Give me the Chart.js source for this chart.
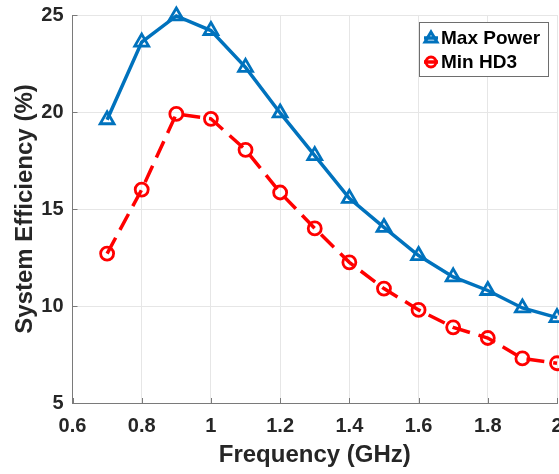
<!DOCTYPE html>
<html>
<head>
<meta charset="utf-8">
<script src="https://cdn.jsdelivr.net/npm/chart.js@4"></script>
<style>
  html, body { margin: 0; padding: 0; background: #fff; }
  #wrap { width: 559px; height: 474px; }
</style>
</head>
<body>
<div id="wrap"><canvas id="myChart" width="559" height="474"></canvas></div>
<script>
// Datos
var freq = [0.7, 0.8, 0.9, 1.0, 1.1, 1.2, 1.3, 1.4, 1.5, 1.6, 1.7, 1.8, 1.9, 2.0];
var maxPower = [19.6, 23.6, 24.95, 24.2, 22.3, 19.95, 17.75, 15.55, 14.05, 12.6, 11.5, 10.8, 9.9, 9.4];
var minHD3 = [12.7, 16.0, 19.9, 19.65, 18.05, 15.85, 14.0, 12.25, 10.9, 9.8, 8.9, 8.35, 7.3, 7.05];
var seriesNames = ['Max Power', 'Min HD3'];

var blue = '#0072BD';
var red = '#FF0000';
var fontFam = '"Liberation Sans", Arial, sans-serif';

function toPoints(xs, ys) {
  return xs.map(function(x, i) { return { x: x, y: ys[i] }; });
}

// Leyenda dibujada dentro del área del gráfico (como en MATLAB)
var legendBox = {
  id: 'legendBox',
  afterDraw: function(chart) {
    var c = chart.ctx;
    var x0 = 419.5, y0 = 22.5, w = 129, h = 54;
    c.save();
    c.fillStyle = '#fff';
    c.fillRect(x0, y0, w, h);
    c.strokeStyle = '#6e6e6e';
    c.lineWidth = 1;
    c.strokeRect(x0, y0, w, h);

    var rows = [
      { y: 38, color: blue, style: 'triangle' },
      { y: 62, color: red, style: 'circle' }
    ];
    rows.forEach(function(r, i) {
      c.strokeStyle = r.color;
      c.lineWidth = 3.5;
      c.beginPath();
      c.moveTo(424, r.y);
      c.lineTo(438, r.y);
      c.stroke();
      c.lineWidth = 3;
      c.beginPath();
      if (r.style === 'triangle') {
        c.moveTo(431, r.y - 6);
        c.lineTo(437, r.y + 4);
        c.lineTo(425, r.y + 4);
        c.closePath();
      } else {
        c.arc(431, r.y, 5, 0, Math.PI * 2);
      }
      c.stroke();
      c.fillStyle = '#000';
      c.font = 'bold 19px ' + fontFam;
      c.textBaseline = 'middle';
      c.textAlign = 'left';
      c.fillText(seriesNames[i], 441, r.y + 1);
    });
    c.restore();
  }
};

// Marcas de eje hacia dentro (estilo MATLAB)
var innerTicks = {
  id: 'innerTicks',
  afterDatasetsDraw: function(chart) {
    var c = chart.ctx, a = chart.chartArea;
    var xs = chart.scales.x, ys = chart.scales.y;
    c.save();
    c.strokeStyle = '#7a7a7a';
    c.lineWidth = 1;
    c.beginPath();
    xs.ticks.forEach(function(t) {
      var px = Math.round(xs.getPixelForValue(t.value)) + 0.5;
      c.moveTo(px, a.bottom);
      c.lineTo(px, a.bottom - 5);
    });
    ys.ticks.forEach(function(t) {
      var py = Math.round(ys.getPixelForValue(t.value)) + 0.5;
      c.moveTo(a.left, py);
      c.lineTo(a.left + 5, py);
    });
    c.stroke();
    c.restore();
  }
};

var ctx = document.getElementById('myChart').getContext('2d');

var chart = new Chart(ctx, {
  type: 'line',
  data: {
    datasets: [{
      label: seriesNames[0],
      data: toPoints(freq, maxPower),
      borderColor: blue,
      backgroundColor: 'rgba(0,0,0,0)',
      borderWidth: 3.5,
      pointStyle: 'triangle',
      pointRadius: 8,
      pointBorderWidth: 2.8,
      pointBorderColor: blue,
      pointBackgroundColor: 'rgba(0,0,0,0)',
      tension: 0,
      clip: false
    }, {
      label: seriesNames[1],
      data: toPoints(freq, minHD3),
      borderColor: red,
      backgroundColor: 'rgba(0,0,0,0)',
      borderWidth: 3.5,
      borderDash: [18, 9],
      pointStyle: 'circle',
      pointRadius: 6.5,
      pointBorderWidth: 2.8,
      pointBorderColor: red,
      pointBackgroundColor: 'rgba(0,0,0,0)',
      tension: 0,
      clip: false
    }]
  },
  options: {
    responsive: false,
    animation: false,
    events: [],
    layout: { autoPadding: false, padding: { top: 15, right: 2, left: 0, bottom: 0 } },
    plugins: {
      legend: { display: false },
      tooltip: { enabled: false }
    },
    scales: {
      x: {
        type: 'linear',
        min: 0.6,
        max: 2,
        afterFit: function(s) { s.height = 71; s.paddingLeft = 0; s.paddingRight = 0; },
        ticks: {
          stepSize: 0.2,
          padding: 0,
          color: '#262626',
          font: { family: fontFam, size: 20, weight: 'bold' },
          maxRotation: 0,
          callback: function(v) { return String(+v.toFixed(1)); }
        },
        grid: { color: '#e6e6e6', lineWidth: 1, drawTicks: true, tickLength: 11, tickColor: 'rgba(0,0,0,0)' },
        border: { color: '#7a7a7a', width: 1 },
        title: {
          display: true,
          text: 'Frequency (GHz)',
          color: '#262626',
          font: { family: fontFam, size: 24, weight: 'bold' },
          padding: { top: 0, bottom: 4 }
        }
      },
      y: {
        min: 5,
        max: 25,
        afterFit: function(s) { s.width = 72.5; s.paddingTop = 0; s.paddingBottom = 0; },
        ticks: {
          stepSize: 5,
          padding: 0,
          color: '#262626',
          font: { family: fontFam, size: 20, weight: 'bold' }
        },
        grid: { color: '#e6e6e6', lineWidth: 1, drawTicks: true, tickLength: 9, tickColor: 'rgba(0,0,0,0)' },
        border: { color: '#7a7a7a', width: 1 },
        title: {
          display: true,
          text: 'System Efficiency (%)',
          color: '#262626',
          font: { family: fontFam, size: 24, weight: 'bold' },
          padding: { top: 11, bottom: 0 }
        }
      }
    }
  },
  plugins: [legendBox, innerTicks]
});
</script>
</body>
</html>
